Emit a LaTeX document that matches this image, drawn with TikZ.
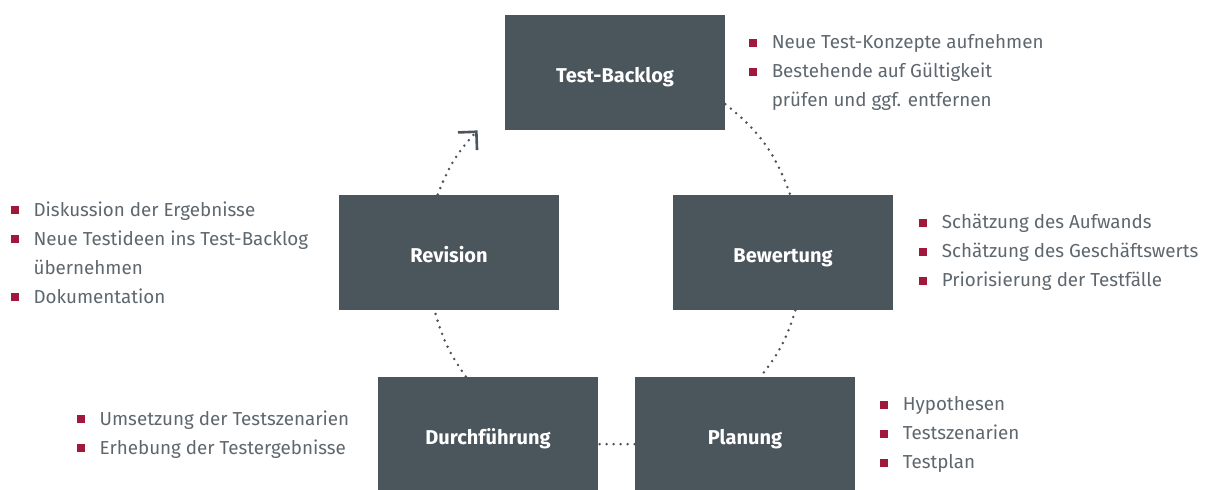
\documentclass[tikz,border=0pt]{standalone}
\usepackage{fontspec}
\setmainfont{Fira Sans}
\usepackage{tikz}
\usetikzlibrary{positioning,arrows.meta}
\definecolor{boxgrey}{HTML}{4B555C}
\definecolor{textgrey}{HTML}{5E676E}
\definecolor{bulletred}{HTML}{A0193C}
% hanging red square in front of a list entry
\newcommand{\itm}{\llap{\textcolor{bulletred}{\rule[0.1em]{4pt}{4pt}}\hspace{7.5pt}}}
\tikzset{
  link/.style={draw=boxgrey, line width=1.4pt, line cap=round, dash pattern=on 0pt off 3.5pt},
  phase/.style={fill=boxgrey, text=white, font=\bfseries\fontsize{10}{12}\selectfont,
    minimum width=110pt, minimum height=57.5pt, inner sep=0pt, text height=10.5pt, text depth=0pt},
  notes/.style={align=left, text=textgrey, inner sep=0pt, font=\fontsize{9.4}{14.5}\selectfont}
}

\begin{document}
\begin{tikzpicture}[x=0.5pt, y=0.5pt]
  \useasboundingbox (0,0) rectangle (1232,-490);

  % the five phases
  \node[phase] (tb) at (615,-72.5) {Test-Backlog};
  \node[phase] (bw) at (783,-252.5) {Bewertung};
  \node[phase] (pl) at (745,-434.5) {Planung};
  \node[phase] (df) at (488,-434.5) {Durchführung};
  \node[phase] (rv) at (449,-252.5) {Revision};

  % notes beside each phase
  \node[notes, right=23pt of tb] (tbnotes) {\itm Neue Test-Konzepte aufnehmen\\
    \itm Bestehende auf Gültigkeit\\ prüfen und ggf. entfernen};
  \node[notes, right=24pt of bw] (bwnotes) {\itm Schätzung des Aufwands\\
    \itm Schätzung des Geschäftswerts\\ \itm Priorisierung der Testfälle};
  \node[notes, right=23.5pt of pl] (plnotes) {\itm Hypothesen\\ \itm Testszenarien\\ \itm Testplan};
  \node[notes, left=14pt of df] (dfnotes) {\itm Umsetzung der Testszenarien\\
    \itm Erhebung der Testergebnisse};
  \node[notes, left=15pt of rv] (rvnotes) {\itm Diskussion der Ergebnisse\\
    \itm Neue Testideen ins Test-Backlog\\ übernehmen\\ \itm Dokumentation};

  % dotted cycle
  \draw[link] (tb.-16) to[bend left=16] (bw.83);
  \draw[link] (bw.-78) to[bend left=11] (pl.75);
  \draw[link] (pl.185) -- (df.-5);
  \draw[link] (df.111) to[bend left=10] (rv.-104);
  \draw[link, -{Straight Barb[length=6.5pt, width=13pt, line width=1.3pt]}]
    (rv.101) to[bend left=11] ([xshift=-13.5pt]tb.south west);
\end{tikzpicture}
\end{document}
